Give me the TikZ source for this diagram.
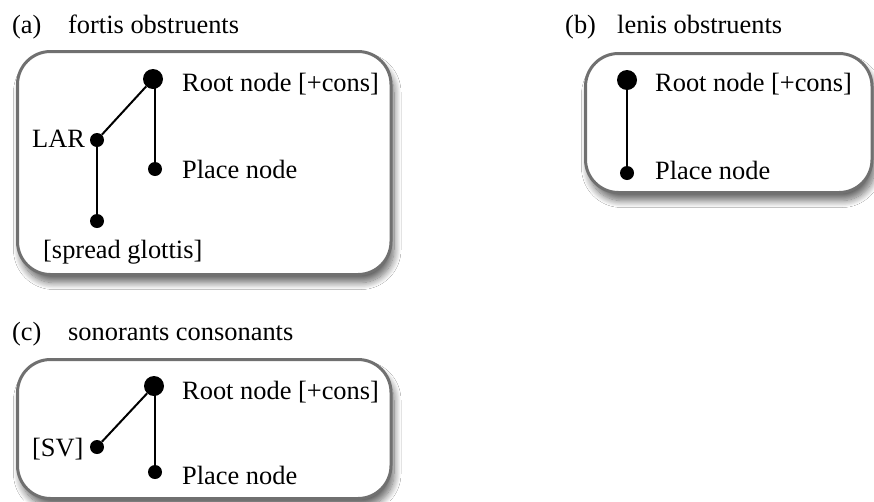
\documentclass[tikz,border=0pt]{standalone}
\usepackage{fontspec}
\setmainfont{Liberation Serif}
\usetikzlibrary{shadows.blur}
\definecolor{boxgray}{RGB}{112,112,112}
\tikzset{
  panel/.style={draw=boxgray, line width=3pt, rounded corners=33pt, fill=white,
    blur shadow={shadow xshift=3pt, shadow yshift=-8pt, shadow blur radius=7pt, shadow blur steps=12, shadow opacity=60}},
  bigdot/.style={circle, fill=black, inner sep=0pt, minimum size=20pt},
  smalldot/.style={circle, fill=black, inner sep=0pt, minimum size=14pt},
  lbl/.style={anchor=base west, inner sep=0pt, font=\fontsize{26.4}{30}\selectfont},
  edge/.style={line width=2pt}
}
\begin{document}
\begin{tikzpicture}[x=1pt,y=-1pt]
\path[use as bounding box, fill=white] (0,0) rectangle (874,501);
\clip (0,0) rectangle (874,501);

% titles
\node[lbl] (ta) at (12,33) {(a)};
\node[lbl] (tan) at (68,33) {fortis obstruents};
\node[lbl] (tb) at (565,33) {(b)};
\node[lbl] (tbn) at (617,33) {lenis obstruents};
\node[lbl] (tc) at (12,340) {(c)};
\node[lbl] (tcn) at (68,340) {sonorants consonants};

% panels
\path[panel] (17.5,51.5) rectangle (391,274.5);
\path[panel] (585.5,53.5) rectangle (872,192.5);
\path[panel] (17.5,359.5) rectangle (391,498.5);

% (a)
\node[bigdot] (aroot) at (153,79) {};
\node[smalldot] (aplace) at (155,169) {};
\node[smalldot] (alar) at (97,140) {};
\node[smalldot] (asg) at (97,221) {};
\draw[edge] (aroot) -- (alar);
\draw[edge] (aplace |- aroot.center) -- (aplace);
\draw[edge] (alar) -- (asg);
\node[lbl] (arootl) at (182,91) {Root node [+cons]};
\node[lbl] (aplacel) at (182,178) {Place node};
\node[lbl] (alarl) at (32,147) {LAR};
\node[lbl] (asgl) at (43,258) {[spread glottis]};

% (b)
\node[bigdot] (broot) at (627,80) {};
\node[smalldot] (bplace) at (627,173) {};
\draw[edge] (broot) -- (bplace);
\node[lbl] (brootl) at (655,91) {Root node [+cons]};
\node[lbl] (bplacel) at (655,179) {Place node};

% (c)
\node[bigdot] (croot) at (154,386) {};
\node[smalldot] (cplace) at (155,472) {};
\node[smalldot] (csv) at (97,447) {};
\draw[edge] (croot) -- (csv);
\draw[edge] (cplace |- croot.center) -- (cplace);
\node[lbl] (crootl) at (182,399) {Root node [+cons]};
\node[lbl] (cplacel) at (182,484) {Place node};
\node[lbl] (csvl) at (32,456) {[SV]};
\end{tikzpicture}
\end{document}
